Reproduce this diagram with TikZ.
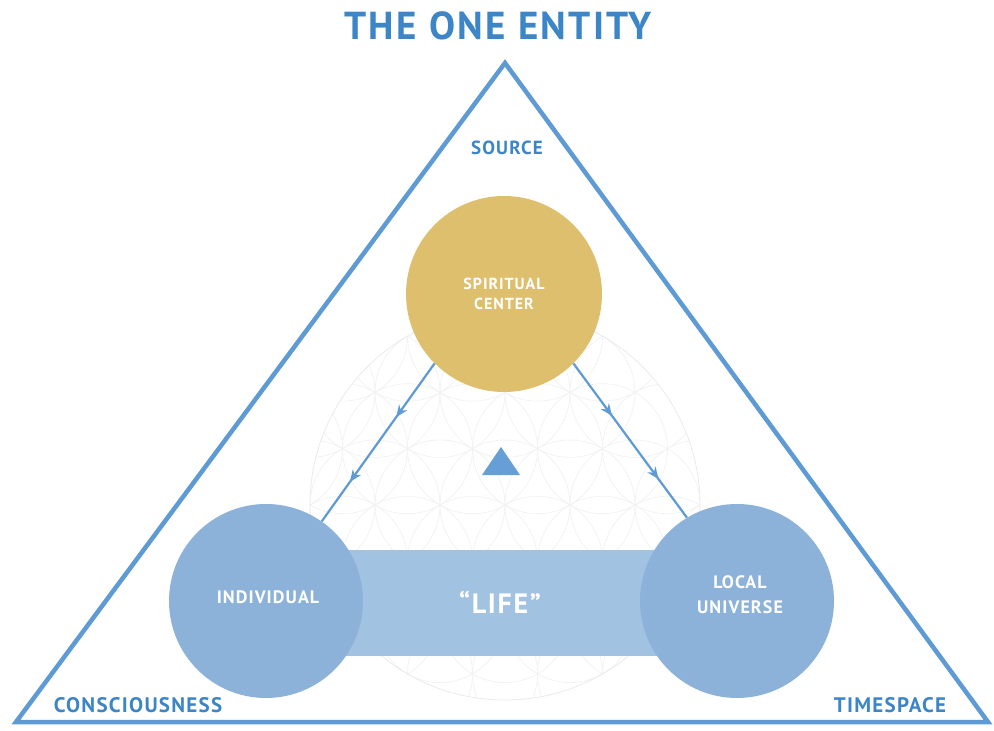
\documentclass[tikz,border=0pt]{standalone}
\usepackage{fontspec}
\setmainfont{PT Sans}
\newfontfamily\spaced[LetterSpace=6]{PT Sans}
\usetikzlibrary{decorations.markings,arrows.meta}
\definecolor{tblue}{HTML}{3C85C6}
\definecolor{lineblue}{HTML}{5E9AD3}
\definecolor{goldc}{HTML}{DDBF6E}
\definecolor{ballblue}{HTML}{8CB2D9}
\definecolor{lifeblue}{HTML}{A2C2E2}
\tikzset{
  lbl/.style={text=tblue, font=\spaced\bfseries\fontsize{21}{21}\selectfont, inner sep=0},
  ball/.style={circle, fill=ballblue, minimum size=194pt, inner sep=0},
  intext/.style={text=white, align=center, inner sep=0},
  faint/.style={draw=black!5, line width=0.7pt},
  flowline/.style={draw=lineblue, line width=2.2pt, postaction={decorate},
    decoration={markings,
      mark=at position 0.34 with {\arrow{Stealth[length=12pt,width=10pt]}},
      mark=at position 0.75 with {\arrow{Stealth[length=12pt,width=10pt]}}}}
}
\begin{document}
\begin{tikzpicture}[x=1pt,y=-1pt]
\useasboundingbox (0,0) rectangle (994,731);
\fill[white] (0,0) rectangle (994,731);
% faint flower-of-life background
\begin{scope}
  \clip (505,505) circle (195);
  \foreach \i in {-3,...,3}{
    \foreach \j in {-3,...,3}{
      \draw[faint] ({505+65*\i+32.5*\j},{505+56.29*\j}) circle (65);
    }
  }
\end{scope}
\draw[draw=black!8, line width=0.8pt] (505,505) circle (195);
% big triangle
\coordinate (apex) at (505,63);
\coordinate (bl) at (16,722);
\coordinate (br) at (988,722);
\draw[lineblue, line width=4.5pt, line join=miter] (apex) -- (bl) -- (br) -- cycle;
% title and corner labels
\node[text=tblue, font=\spaced\bfseries\fontsize{39}{39}\selectfont, inner sep=0] (title) at (498,26) {THE ONE ENTITY};
\node[lbl, font=\spaced\bfseries\fontsize{19}{19}\selectfont] (source) at (507,148) {SOURCE};
\node[lbl] (conscious) at (138,705) {CONSCIOUSNESS};
\node[lbl] (timespace) at (890,705) {TIMESPACE};
% small centre triangle
\fill[lineblue!95] (501,447) -- (482,475) -- (520,475) -- cycle;
% life bar
\node[fill=lifeblue, minimum width=340pt, minimum height=106pt, inner sep=0] (life) at (503,603) {};
% circles
\node[ball] (indiv) at (266,601) {};
\node[ball] (localu) at (737,601) {};
\node[circle, fill=goldc, minimum size=196pt, inner sep=0] (spirit) at (504,294) {};
% texts
\node[intext, font=\spaced\bfseries\fontsize{16}{20}\selectfont] (spirittxt) at (spirit) {SPIRITUAL\\CENTER};
\node[intext, font=\spaced\bfseries\fontsize{18}{25}\selectfont] (indivtxt) at (268,597) {INDIVIDUAL};
\node[intext, font=\spaced\bfseries\fontsize{18}{25}\selectfont] (localtxt) at (740,595) {LOCAL\\UNIVERSE};
\node[intext, font=\spaced\bfseries\fontsize{28}{28}\selectfont] (lifetxt) at (500,602) {“LIFE”};
% connectors
\path[flowline] (spirit.225) -- (indiv.55);
\path[flowline] (spirit.315) -- (localu.121);
\end{tikzpicture}
\end{document}
